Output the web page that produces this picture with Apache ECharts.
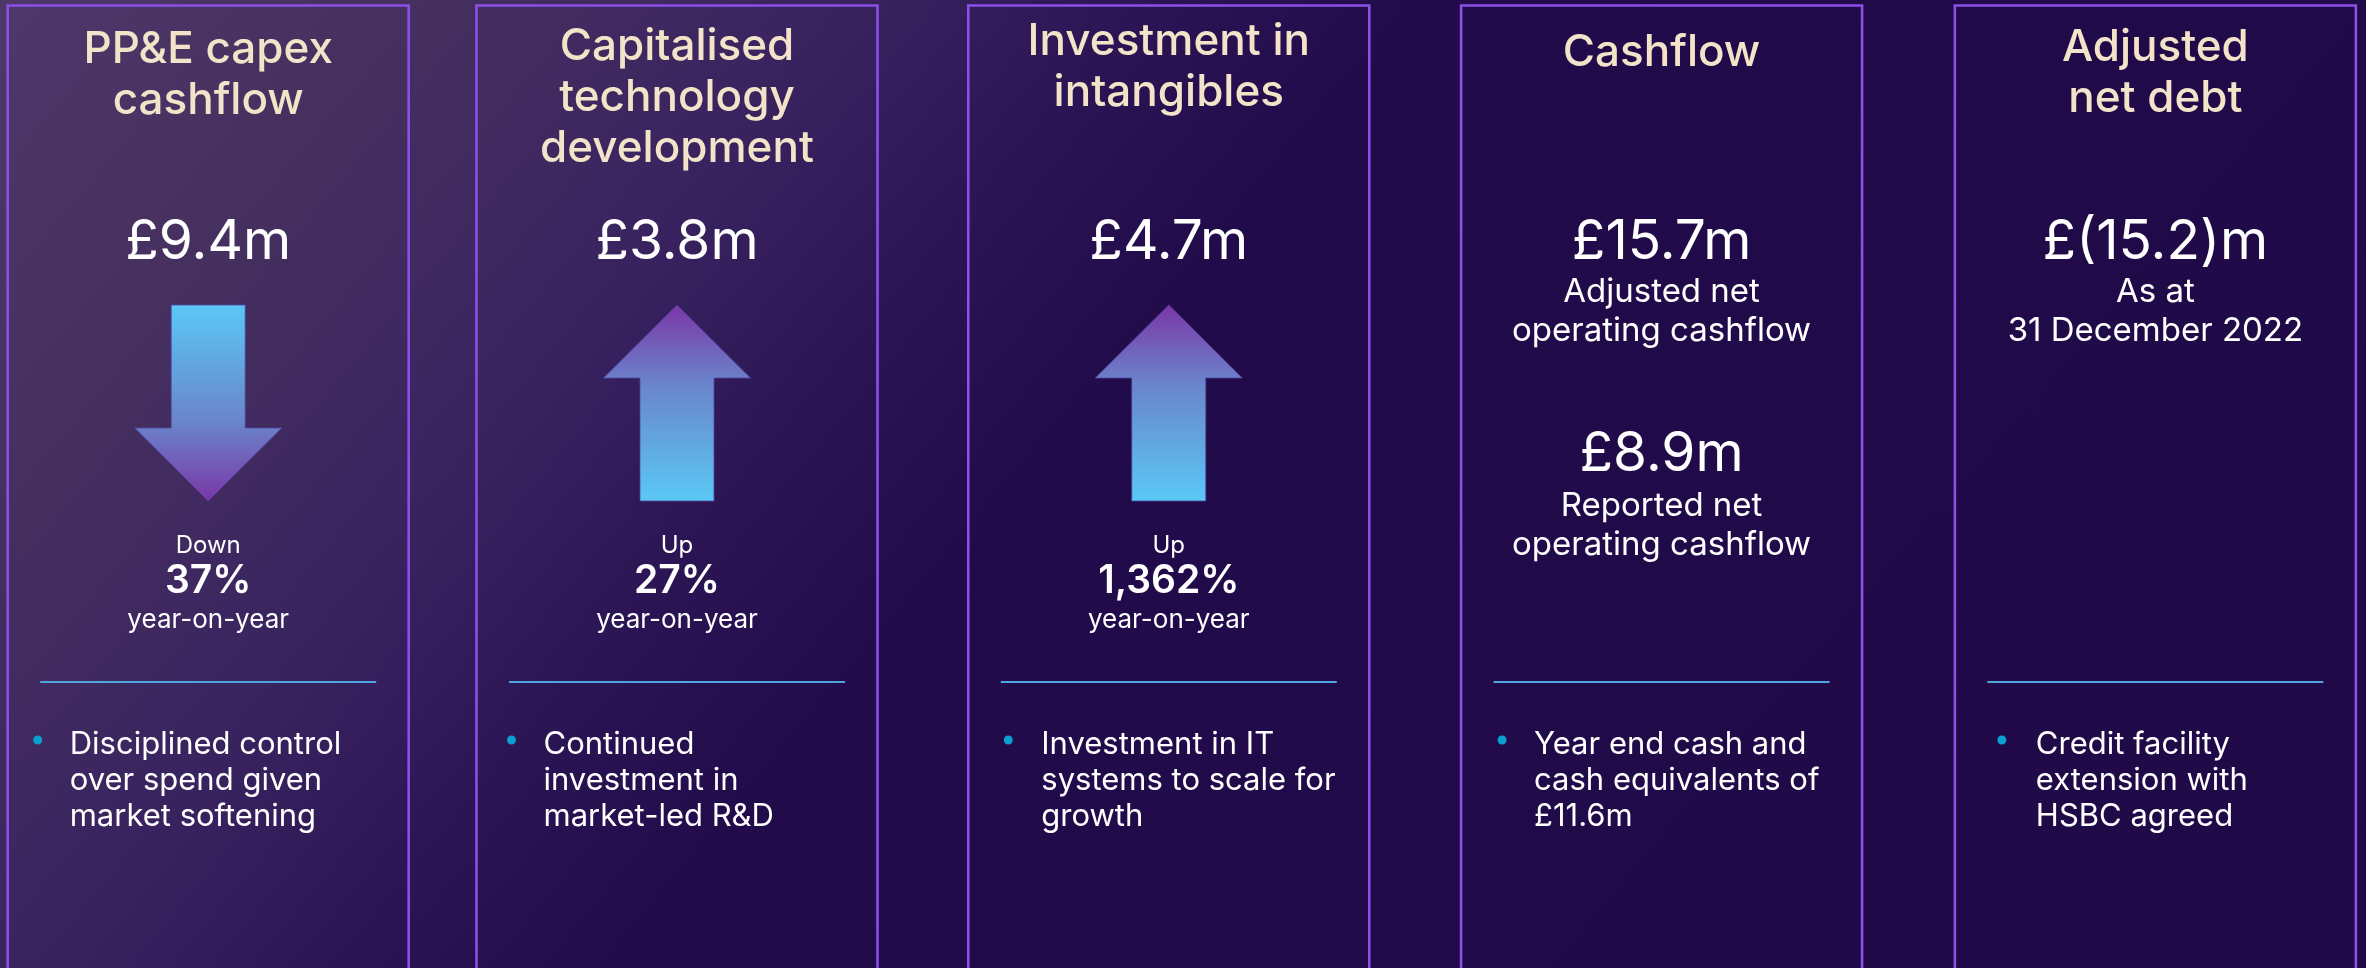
<!DOCTYPE html>
<html>
<head>
<meta charset="utf-8">
<script src="https://cdn.jsdelivr.net/npm/echarts@6/dist/echarts.min.js"></script>
<style>
html,body{margin:0;padding:0;}
#chart{width:2366px;height:968px;background:linear-gradient(130deg,#4E386A 0%,#46305F 13%,#3A2460 26%,#2B1554 36%,#220B4A 45%,#200947 100%);}
</style>
</head>
<body>
<div id="chart"></div>
<script>
// ---------------- data ----------------
const panelNames = ['PP&E capex cashflow', 'Capitalised technology development', 'Investment in intangibles', 'Cashflow', 'Adjusted net debt'];
const titleLines = [['PP&E capex', 'cashflow'], ['Capitalised', 'technology', 'development'], ['Investment in', 'intangibles'], ['Cashflow'], ['Adjusted', 'net debt']];
const headlineValues = [9.4, 3.8, 4.7, 15.7, -15.2];           // £m
const yoyChangePct = [-37, 27, 1362, null, null];              // % year-on-year
const headlineNotes = [null, null, null, ['Adjusted net', 'operating cashflow'], ['As at', '31 December 2022']];
const secondaryValues = [null, null, null, 8.9, null];         // £m
const secondaryNotes = [null, null, null, ['Reported net', 'operating cashflow'], null];
const bulletLines = [
  ['Disciplined control', 'over spend given', 'market softening'],
  ['Continued', 'investment in', 'market-led R&D'],
  ['Investment in IT', 'systems to scale for', 'growth'],
  ['Year end cash and', 'cash equivalents of', '£11.6m'],
  ['Credit facility', 'extension with', 'HSBC agreed']
];

// ---------------- layout / style (not data) ----------------
const FONT = 'Inter';
const TITLE_COLOR = '#F3E3C8';
const PANEL_NUDGE = [10, -9, -5, 0, 6];     // small horizontal alignment tweaks (px)
const TITLE_Y0 = [50, 47, 42, 53, 48];
const TITLE_LH = 51;
const VALUE_Y = 242;
const PANEL_W = 401;
const ARROW = {top: 305, headBase: 378, bottom: 501, headHalf: 73.5, shaftHalf: 37};
const CHANGE_Y = [546, 581, 620];
const NOTE_Y = [292, 331];
const SECOND_VALUE_Y = 454;
const SECOND_NOTE_Y = [506, 545];
const SEP_Y = 682, SEP_HALF = 168;
const BULLET_Y0 = 745, BULLET_LH = 36;
const DOT_INDENT = [30, 35, 40, 41, 47];     // from panel's left edge (px)
const TEXT_INDENT = [62, 67, 73, 73, 81];

const fmtMoney = v => v < 0 ? '£(' + Math.abs(v).toFixed(1) + ')m' : '£' + v.toFixed(1) + 'm';
const fmtPct = v => Math.abs(v).toLocaleString('en-GB') + '%';

function txt(text, x, y, size, weight, color, align) {
  return {
    type: 'text',
    style: {
      text: text, x: x, y: y,
      fill: color || '#FFFFFF',
      fontSize: size, fontWeight: weight || 400, fontFamily: FONT,
      align: align || 'center', verticalAlign: 'middle'
    }
  };
}

function renderPanel(params, api) {
  const i = api.value(0);
  const cx = api.coord([i, 0])[0] + PANEL_NUDGE[i];
  const Y = v => api.coord([i, v])[1];
  const left = cx - PANEL_W / 2;
  const children = [];

  // panel frame
  children.push({
    type: 'rect',
    shape: {x: left, y: Y(5.5), width: PANEL_W, height: Y(1000) - Y(5.5)},
    style: {fill: 'none', stroke: '#8C4FE8', lineWidth: 2.6}
  });

  // title
  titleLines[i].forEach((t, k) => {
    children.push(txt(t, cx, Y(TITLE_Y0[i] + k * TITLE_LH), 44, 500, TITLE_COLOR));
  });

  // headline value
  children.push(txt(fmtMoney(headlineValues[i]), cx, Y(VALUE_Y), 55, 400));

  // change arrow + labels
  const ch = yoyChangePct[i];
  if (ch !== null && ch !== undefined) {
    const up = ch > 0;
    const blue = '#5AC8F5', mid = '#6A84CB', purple = '#7A36A6';
    let pts;
    if (up) {
      pts = [[cx, Y(ARROW.top)], [cx + ARROW.headHalf, Y(ARROW.headBase)], [cx + ARROW.shaftHalf, Y(ARROW.headBase)],
             [cx + ARROW.shaftHalf, Y(ARROW.bottom)], [cx - ARROW.shaftHalf, Y(ARROW.bottom)],
             [cx - ARROW.shaftHalf, Y(ARROW.headBase)], [cx - ARROW.headHalf, Y(ARROW.headBase)]];
    } else {
      const hb = ARROW.top + ARROW.bottom - ARROW.headBase;
      pts = [[cx - ARROW.shaftHalf, Y(ARROW.top)], [cx + ARROW.shaftHalf, Y(ARROW.top)], [cx + ARROW.shaftHalf, Y(hb)],
             [cx + ARROW.headHalf, Y(hb)], [cx, Y(ARROW.bottom)], [cx - ARROW.headHalf, Y(hb)], [cx - ARROW.shaftHalf, Y(hb)]];
    }
    const stops = up
      ? [{offset: 0, color: purple}, {offset: 0.4, color: mid}, {offset: 1, color: blue}]
      : [{offset: 0, color: blue}, {offset: 0.6, color: mid}, {offset: 1, color: purple}];
    children.push({
      type: 'polygon',
      shape: {points: pts},
      style: {fill: new echarts.graphic.LinearGradient(0, 0, 0, 1, stops), stroke: 'rgba(80,70,160,0.8)', lineWidth: 1}
    });
    children.push(txt(up ? 'Up' : 'Down', cx, Y(CHANGE_Y[0]), 24, 400));
    children.push(txt(fmtPct(ch), cx, Y(CHANGE_Y[1]), 39, 600));
    children.push(txt('year-on-year', cx, Y(CHANGE_Y[2]), 26, 400));
  }

  // notes under headline
  if (headlineNotes[i]) {
    headlineNotes[i].forEach((t, k) => children.push(txt(t, cx, Y(NOTE_Y[k]), 33, 400)));
  }
  if (secondaryValues[i] !== null && secondaryValues[i] !== undefined) {
    children.push(txt(fmtMoney(secondaryValues[i]), cx, Y(SECOND_VALUE_Y), 55, 400));
    (secondaryNotes[i] || []).forEach((t, k) => children.push(txt(t, cx, Y(SECOND_NOTE_Y[k]), 33, 400)));
  }

  // separator
  children.push({
    type: 'line',
    shape: {x1: cx - SEP_HALF, y1: Y(SEP_Y), x2: cx + SEP_HALF, y2: Y(SEP_Y)},
    style: {stroke: '#4FA6DE', lineWidth: 2}
  });

  // bullet
  children.push({
    type: 'circle',
    shape: {cx: left + DOT_INDENT[i], cy: Y(BULLET_Y0 - 5), r: 4.5},
    style: {fill: '#0A9FD0'}
  });
  bulletLines[i].forEach((t, k) => {
    children.push(txt(t, left + TEXT_INDENT[i], Y(BULLET_Y0 + k * BULLET_LH), 31, 400, '#FFFFFF', 'left'));
  });

  return {type: 'group', children: children};
}

const chart = echarts.init(document.getElementById('chart'), null, {renderer: 'canvas'});
chart.setOption({
  backgroundColor: 'transparent',
  animation: false,
  grid: {left: 0, right: 0, top: 0, bottom: 0},
  xAxis: {type: 'value', min: -0.4063, max: 4.4441, show: false},
  yAxis: {type: 'value', min: 0, max: 968, inverse: true, show: false},
  series: [{
    type: 'custom',
    name: 'panels',
    renderItem: renderPanel,
    data: panelNames.map((n, i) => ({name: n, value: [i]})),
    encode: {x: 0},
    silent: true,
    clip: false
  }]
});
</script>
</body>
</html>
